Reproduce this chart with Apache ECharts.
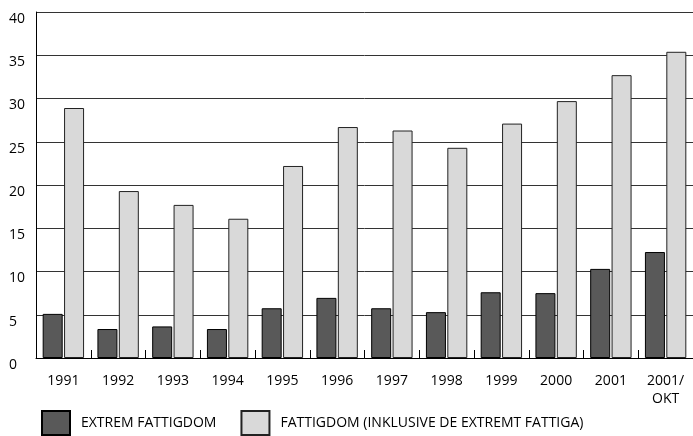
<!DOCTYPE html>
<html>
<head>
<meta charset="utf-8">
<script src="https://cdn.jsdelivr.net/npm/echarts@6/dist/echarts.min.js"></script>
<style>
html,body{margin:0;padding:0;background:#fff;}
#chart{width:693px;height:436px;}
</style>
</head>
<body>
<div id="chart"></div>
<script>
const categories = ['1991','1992','1993','1994','1995','1996','1997','1998','1999','2000','2001','2001/\nOKT'];
const extremFattigdom = [5.1, 3.35, 3.65, 3.35, 5.75, 6.95, 5.75, 5.3, 7.6, 7.5, 10.3, 12.25];
const fattigdom = [28.9, 19.3, 17.7, 16.1, 22.2, 26.7, 26.3, 24.3, 27.1, 29.7, 32.7, 35.4];
const seriesNames = ['EXTREM FATTIGDOM', 'FATTIGDOM (INKLUSIVE DE EXTREMT FATTIGA)'];
const yMin = 0, yMax = 40, yStep = 5;

const font = 'Open Sans';
const chart = echarts.init(document.getElementById('chart'), null, {renderer: 'canvas'});
chart.setOption({
  animation: false,
  backgroundColor: '#ffffff',
  textStyle: {fontFamily: font},
  grid: {left: 36, right: -1, top: 12, bottom: 78, containLabel: false},
  legend: {
    left: 41, top: 410, padding: 0, itemGap: 24,
    itemWidth: 28, itemHeight: 24,
    icon: 'rect',
    data: seriesNames,
    textStyle: {fontFamily: font, fontSize: 14, color: '#000', padding: [14, 0, 0, 6]}
  },
  xAxis: {
    type: 'category',
    data: categories,
    axisLine: {show: true, lineStyle: {color: '#000', width: 1}},
    axisTick: {show: true, inside: true, length: 8, lineStyle: {color: '#000', width: 1}},
    axisLabel: {fontFamily: font, fontSize: 14, color: '#000', margin: 14, lineHeight: 18, interval: 0}
  },
  yAxis: {
    type: 'value', min: yMin, max: yMax, interval: yStep,
    axisLine: {show: true, lineStyle: {color: '#000', width: 1}},
    axisTick: {show: false},
    splitLine: {show: true, lineStyle: {color: '#333', width: 1}},
    axisLabel: {fontFamily: font, fontSize: 14, color: '#000', align: 'left', margin: 27, verticalAlign: 'top'}
  },
  series: [
    {
      name: seriesNames[0], type: 'bar', data: extremFattigdom,
      barWidth: 20, barGap: '7%',
      itemStyle: {color: '#595959', borderColor: '#000', borderWidth: 1}
    },
    {
      name: seriesNames[1], type: 'bar', data: fattigdom,
      barWidth: 20, barGap: '7%',
      itemStyle: {color: '#d9d9d9', borderColor: '#222', borderWidth: 1}
    }
  ]
});
</script>
</body>
</html>
